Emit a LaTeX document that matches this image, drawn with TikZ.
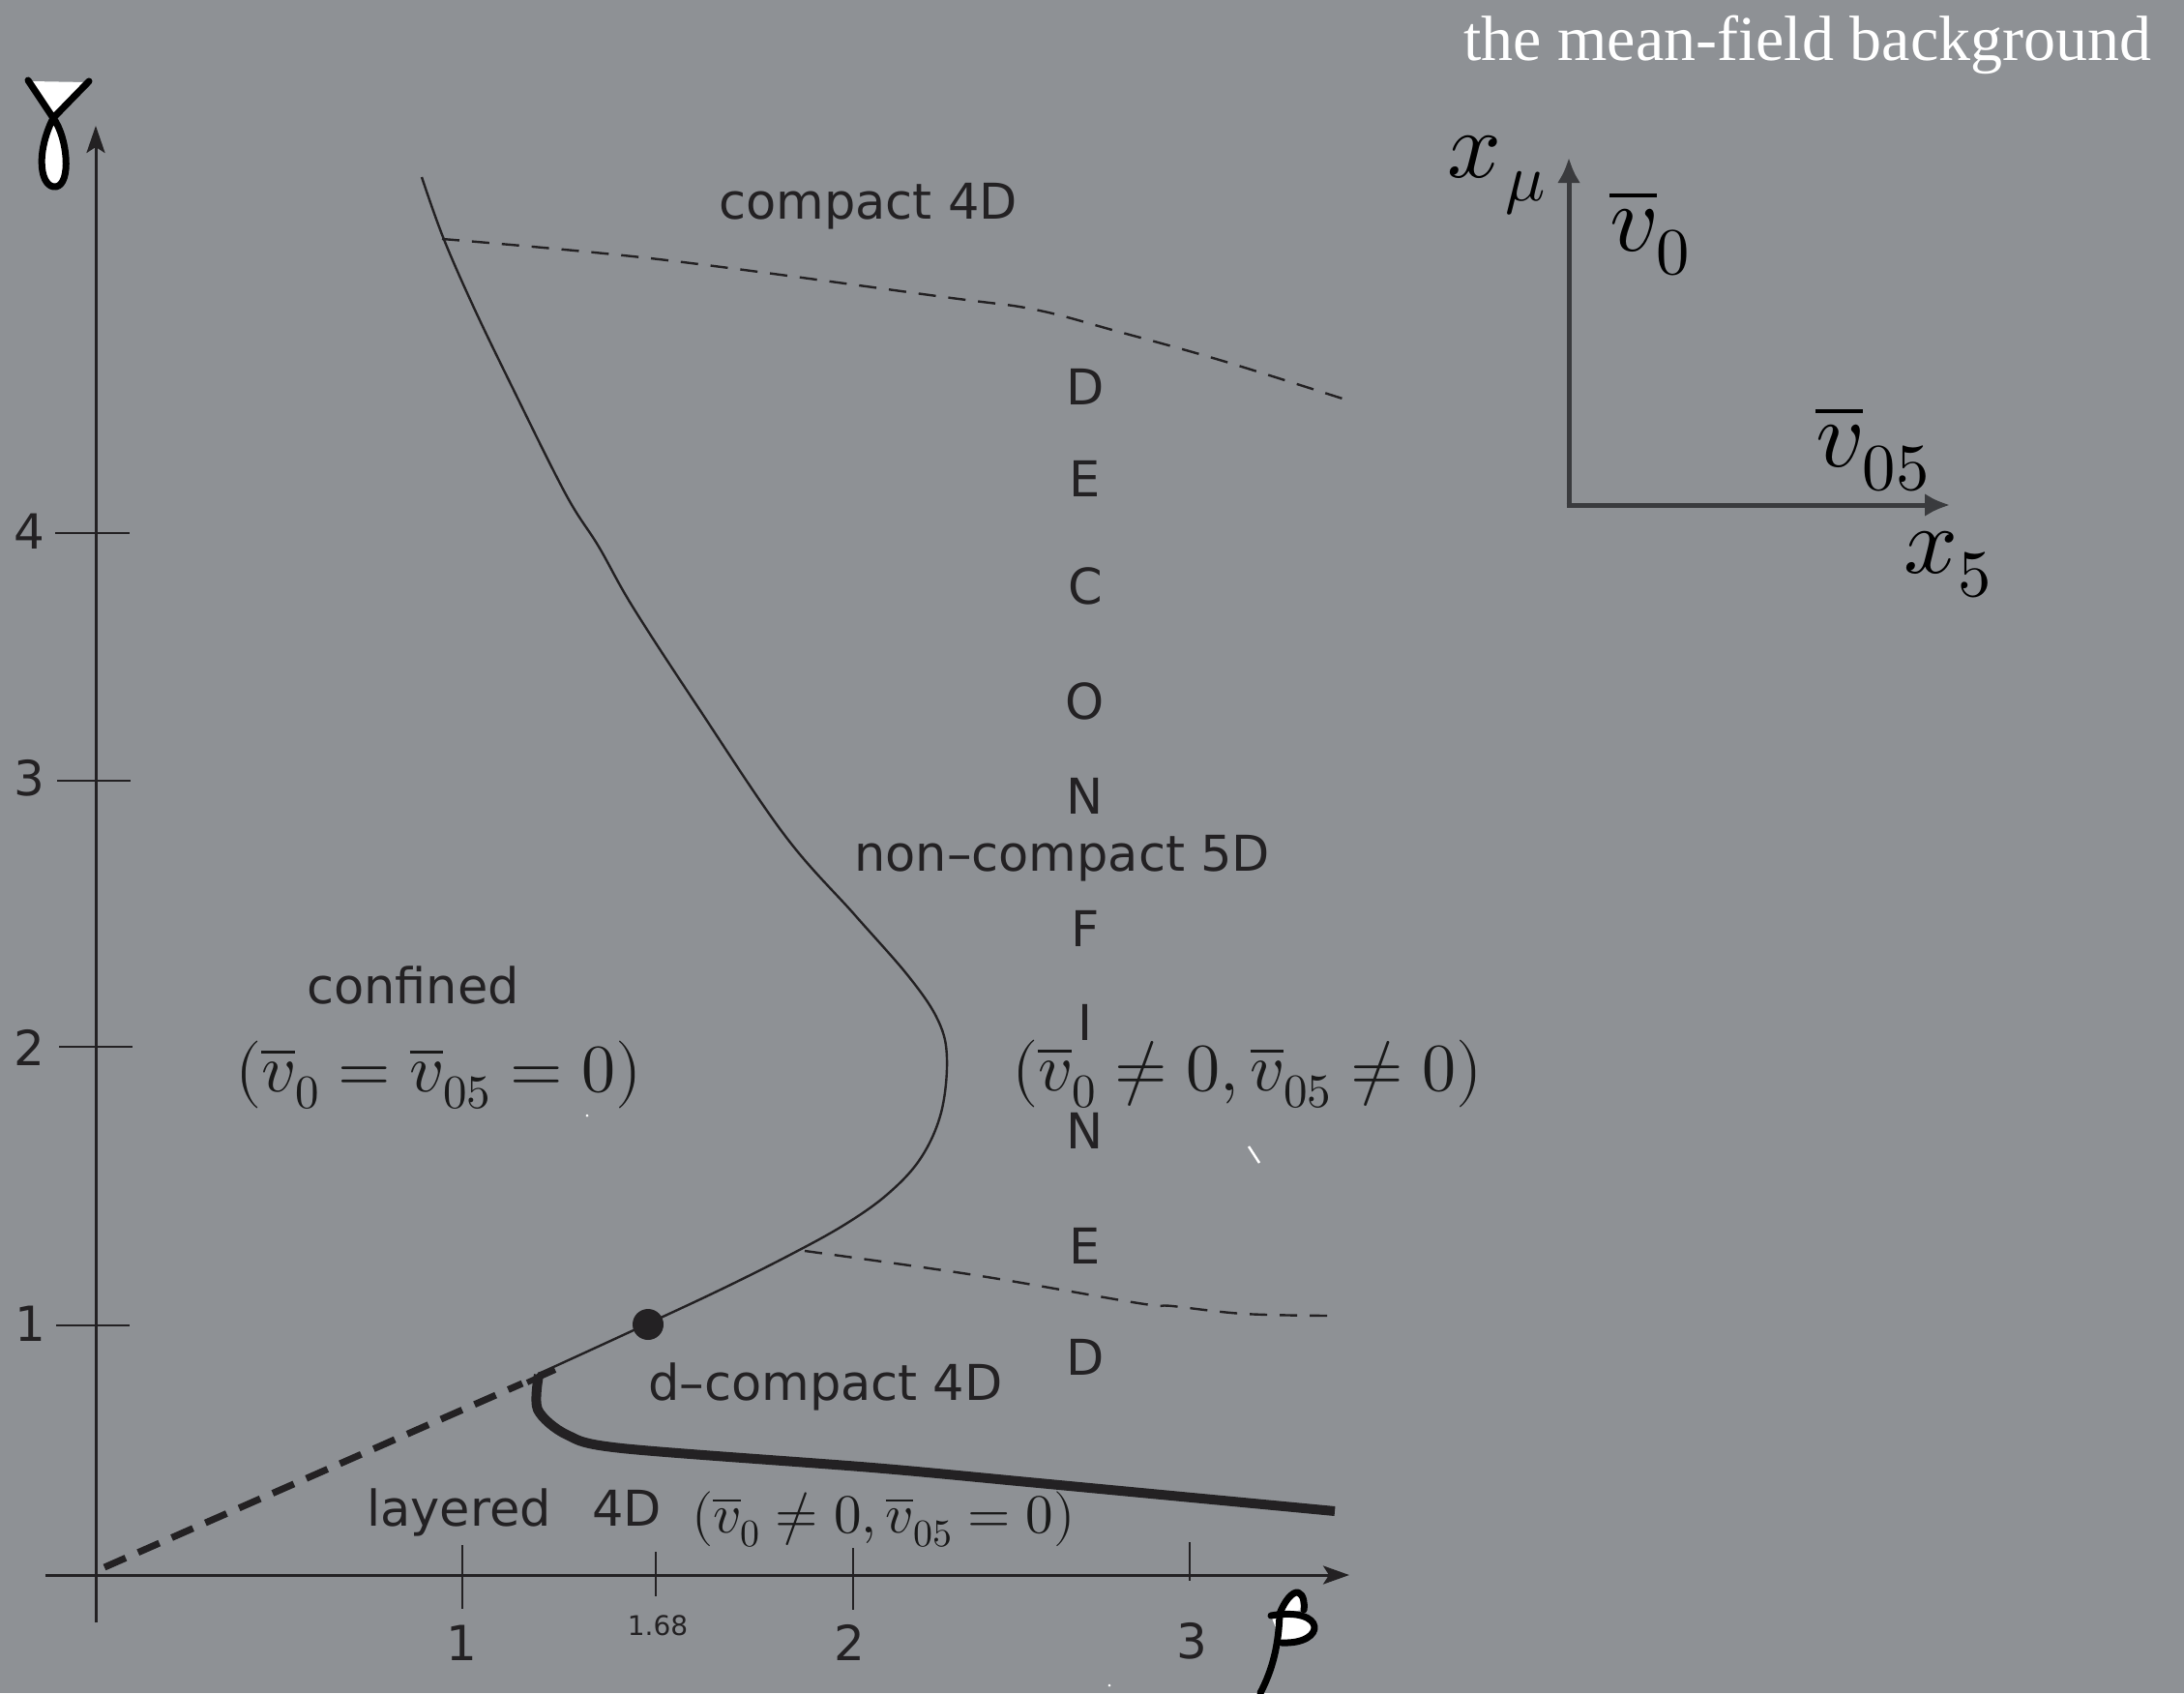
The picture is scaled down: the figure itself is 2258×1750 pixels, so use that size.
\documentclass[tikz,border=0pt]{standalone}
\usepackage{fontspec}
\usepackage{unicode-math}
\setmathfont{Latin Modern Math}
\setsansfont{DejaVu Sans}
\newfontfamily\titlefont{Liberation Serif}
\usetikzlibrary{arrows.meta}
\definecolor{bg}{RGB}{142,145,149}
\definecolor{ink}{RGB}{35,33,35}
\definecolor{insetc}{RGB}{58,59,62}
\begin{document}
\begin{tikzpicture}[x=1pt,y=-1pt,
  lbl/.style={font=\sffamily\fontsize{51}{60}\selectfont, text=ink, inner sep=0pt},
  ticklbl/.style={font=\sffamily\fontsize{50}{60}\selectfont, text=ink, inner sep=0pt},
  mth/.style={font=\fontsize{70}{80}\selectfont, text=black!90, inner sep=0pt},
  bigmth/.style={font=\fontsize{98}{110}\selectfont, text=black, inner sep=0pt},
  axisline/.style={draw=ink, line width=3pt},
  tickline/.style={draw=ink, line width=2pt},
  thincurve/.style={draw=ink, line width=2.4pt},
  thindash/.style={draw=ink, line width=2.4pt, dash pattern=on 18pt off 13pt},
  thickdash/.style={draw=ink, line width=7pt, dash pattern=on 24pt off 14pt},
  thickcurve/.style={draw=ink, line width=10pt},
  hand/.style={draw=black, line width=7pt, line cap=round, line join=round},
  insetarrow/.style={draw=insetc, line width=5pt, -{Latex[length=26pt,width=24pt]}}
]
\fill[bg] (0,0) rectangle (2258,1750);
\useasboundingbox (0,0) rectangle (2258,1750);

% title
\node[anchor=base west, inner sep=0pt, text=white, font=\titlefont\fontsize{66}{76}\selectfont] (title) at (1513,63) {the mean-field background};

% axes
\draw[axisline, -{Stealth[length=28pt,width=19pt,inset=6pt]}] (99,1677) -- (99,130);
\draw[axisline, -{Stealth[length=27pt,width=19pt,inset=6pt]}] (47,1628) -- (1395,1628);

% y ticks
\draw[tickline] (57,551) -- (134,551);
\draw[tickline] (59,807) -- (135,807);
\draw[tickline] (61,1082) -- (137,1082);
\draw[tickline] (58,1370) -- (134,1370);
\node[ticklbl] (y4) at (30,549) {4};
\node[ticklbl] (y3) at (30,804) {3};
\node[ticklbl] (y2) at (30,1083) {2};
\node[ticklbl] (y1) at (31,1368) {1};

% x ticks
\draw[tickline] (478,1597) -- (478,1663);
\draw[tickline] (678,1604) -- (678,1650);
\draw[tickline] (882,1600) -- (882,1664);
\draw[tickline] (1230,1594) -- (1230,1634);
\node[ticklbl] (x1) at (477,1698) {1};
\node[ticklbl] (x2) at (878,1698) {2};
\node[ticklbl] (x3) at (1232,1696) {3};
\node[font=\sffamily\fontsize{28}{32}\selectfont, text=ink, inner sep=0pt] (x168) at (680,1680) {1.68};

% gamma (hand-drawn)
\fill[white] (31,84) -- (90,85) -- (55,121) -- cycle;
\fill[white] (55,122) .. controls (70,142) and (74,190) .. (58,193) .. controls (42,195) and (36,160) .. (55,122);
\draw[hand] (29,83) -- (55,122) .. controls (70,142) and (74,190) .. (58,193) .. controls (42,195) and (36,160) .. (55,122) -- (92,84);

% beta (hand-drawn)
\fill[white] (1324,1667) .. controls (1330,1652) and (1337,1646) .. (1342,1646) .. controls (1348,1648) and (1349,1658) .. (1348,1664) -- cycle;
\fill[white] (1314,1670) .. controls (1372,1660) and (1372,1700) .. (1325,1698) -- cycle;
\draw[hand] (1303,1750) .. controls (1316,1725) and (1322,1700) .. (1323,1668) .. controls (1328,1655) and (1336,1645) .. (1342,1646) .. controls (1348,1648) and (1349,1658) .. (1348,1664);
\draw[hand] (1314,1670) .. controls (1372,1660) and (1372,1700) .. (1325,1698);

% dashed lines
\draw[thindash] plot[smooth, tension=0.6] coordinates {(457,247) (681,268) (976,307) (1070,320) (1157,343) (1264,373) (1391,413)};
\draw[thindash] plot[smooth, tension=0.6] coordinates {(832,1293) (1008,1318) (1177,1347) (1212,1350) (1286,1358) (1373,1360)};
\draw[thickdash] (108,1620) -- (540,1430);

% thin main curve
\draw[thincurve] plot[smooth, tension=0.6] coordinates {(436,183) (458,245) (489,316) (529,399) (585,511) (619,565) (654,627) (721,730) (811,863) (884,946) (940,1010) (970,1055) (979,1094) (973,1150) (952,1197) (918,1234) (873,1266) (815,1298) (745,1333) (668,1369) (570,1414) (558,1419)};

% thick curve
\draw[thickcurve] plot[smooth, tension=0.5] coordinates {(557,1421) (556,1457) (586,1483) (643,1497) (902,1517) (1074,1533) (1380,1562)};
\draw[draw=ink, line width=6pt] (545,1429) -- (574,1416);

% critical point
\fill[ink] (670,1369) circle (16);

% region labels
\node[lbl, anchor=base west] (c4d) at (743,226) {compact 4D};
\node[lbl, anchor=base west] (nc5d) at (883,900) {non–compact 5D};
\node[lbl, anchor=base west] (conf) at (317,1037) {confined};
\node[lbl, anchor=base west] (dc4d) at (670,1447) {d–compact 4D};
\node[lbl, anchor=base west] (lay) at (379,1577) {layered};
\node[lbl, anchor=base west] (lay4d) at (612,1577) {4D};

\node[mth, anchor=base west] (mconf) at (243,1128) {$(\overline{v}_0=\overline{v}_{05}=0)$};
\node[mth, anchor=base west] (mdec) at (1046,1127) {$(\overline{v}_0\neq 0,\overline{v}_{05}\neq 0)$};
\node[mth, font=\fontsize{57}{66}\selectfont, anchor=base west] (mlay) at (715,1584) {$(\overline{v}_0\neq 0,\overline{v}_{05}=0)$};

% DECONFINED vertical
\foreach \ch/\yy [count=\i] in {D/418, E/513, C/624, O/743, N/841, F/978, I/1075, N/1187, E/1306, D/1421} {
  \node[lbl, anchor=base] (dec\i) at (1122,\yy) {\ch};
}

% inset axes
\coordinate (o) at (1622,522);
\coordinate (ytip) at (1622,163);
\coordinate (xtip) at (2016,522);
\draw[insetarrow] ([yshift=2.5pt]o) -- (ytip);
\draw[insetarrow] ([xshift=-2.5pt]o) -- (xtip);
\node[bigmth, anchor=base west] (xmu) at (1496,183) {$x_{\mkern1mu\mu}$};
\node[bigmth, anchor=base west] (v0) at (1664,259) {$\overline{v}_0$};
\node[bigmth, anchor=base west] (v05) at (1877,482) {$\overline{v}_{05}$};
\node[bigmth, anchor=base west] (x5) at (1968,592) {$x_{5}$};

% small white marks
\draw[white, line width=2.5pt] (1291,1185) -- (1302,1202);
\fill[white] (607,1153) circle (1.5);
\fill[white] (1147,1742) circle (1.5);
\end{tikzpicture}
\end{document}
